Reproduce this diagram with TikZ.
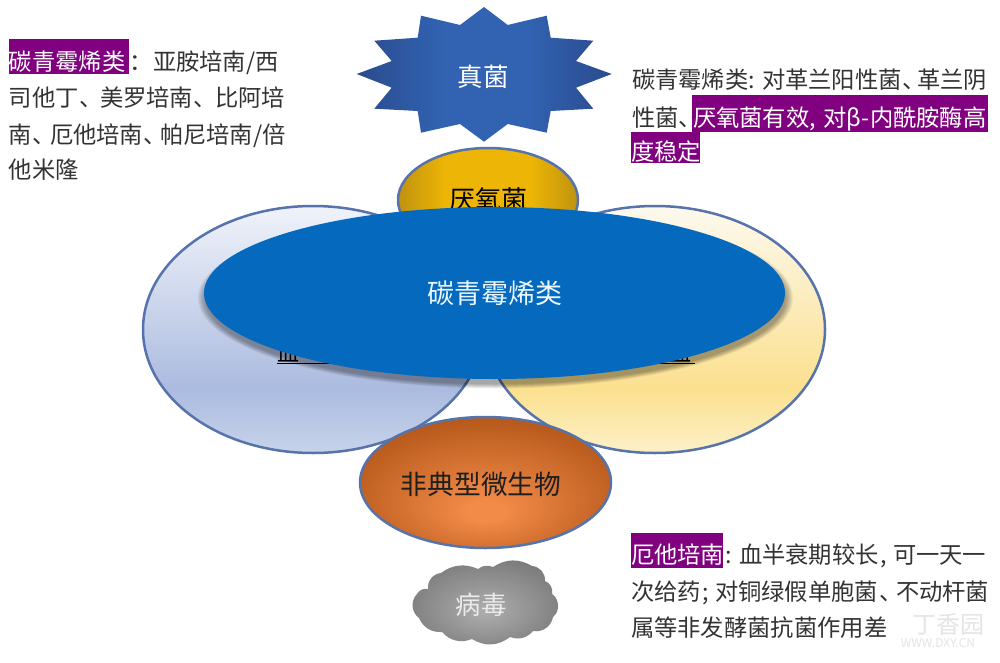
\documentclass[tikz,border=0pt]{standalone}
\usepackage{fontspec}
\setmainfont{Noto Sans CJK SC}
\usetikzlibrary{shapes.geometric}
\definecolor{edgeblue}{HTML}{5673AC}
\definecolor{plum}{HTML}{800080}
\definecolor{ink}{HTML}{333333}
\definecolor{sblA}{HTML}{C7D3EA}\definecolor{sblB}{HTML}{ABBBDF}\definecolor{sblC}{HTML}{F0F3FA}
\definecolor{syeA}{HTML}{FCF0C8}\definecolor{syeB}{HTML}{FBE08F}\definecolor{syeC}{HTML}{FDF9EE}
\definecolor{sorA}{HTML}{F28A48}\definecolor{sorB}{HTML}{B5581A}
\definecolor{sgrA}{HTML}{AEAEAE}\definecolor{sgrB}{HTML}{787878}
\definecolor{sgoA}{HTML}{EDB506}\definecolor{sgoB}{HTML}{BF920E}
\definecolor{sstA}{HTML}{3163B2}\definecolor{sstB}{HTML}{2B4B8D}
\definecolor{coreblue}{HTML}{0569BE}
\pgfdeclareverticalshading{bluelens}{100bp}{color(0bp)=(sblA); color(25bp)=(sblA); color(38bp)=(sblB); color(75bp)=(sblC); color(100bp)=(sblC)}
\pgfdeclareverticalshading{yellowlens}{100bp}{color(0bp)=(syeA); color(25bp)=(syeA); color(38bp)=(syeB); color(75bp)=(syeC); color(100bp)=(syeC)}
\pgfdeclarehorizontalshading{goldlens}{100bp}{color(0bp)=(sgoB); color(25bp)=(sgoB); color(38bp)=(sgoA); color(62bp)=(sgoA); color(75bp)=(sgoB); color(100bp)=(sgoB)}
\pgfdeclarehorizontalshading{starshade}{100bp}{color(0bp)=(sstB); color(25bp)=(sstB); color(42bp)=(sstA); color(58bp)=(sstA); color(75bp)=(sstB); color(100bp)=(sstB)}
\pgfdeclareradialshading{orangeglow}{\pgfpoint{0bp}{-12bp}}{color(0bp)=(sorA); color(4bp)=(sorA); color(30bp)=(sorB); color(50bp)=(sorB)}
\pgfdeclareradialshading{greyglow}{\pgfpoint{0bp}{-5bp}}{color(0bp)=(sgrA); color(30bp)=(sgrB); color(50bp)=(sgrB)}
\tikzset{
  lens/.style={ellipse,draw=edgeblue,line width=2.5pt,inner sep=0pt},
  shapelabel/.style={inner sep=0pt},
  notetext/.style={anchor=base west,inner sep=0pt,outer sep=0pt,text=ink,font=\fontsize{23.3}{24}\selectfont},
  marktext/.style={notetext,text=white},
  markbox/.style={fill=plum,draw=none},
  hiddenrule/.style={line width=1.1pt,black},
  softshadow/.style={fill=black,opacity=.04,draw=none},
  faintmark/.style={inner sep=0pt,text=black!10},
}
\newcommand{\lbl}[1]{\fontsize{#1}{#1}\selectfont}
\begin{document}
\begin{tikzpicture}[x=1pt,y=-1pt]
\useasboundingbox (0,0) rectangle (1000,663);
\fill[white] (0,0) rectangle (1000,663);
% star
\shade[shading=starshade]
 (484,7)--(507.7,25)--(546.7,15.7)--(550.7,37.7)--(593.3,40.7)--(576,61)--(611.7,74)--(576,87.7)--(593.3,108.7)--(550.7,111)--(546.7,132.7)--(507.7,124)--(484,141.7)--(460,124)--(421,132.7)--(417.7,111)--(374.3,108.7)--(391.7,87.7)--(356.7,74)--(391.7,61)--(374.3,40.7)--(417.7,37.7)--(421,15.7)--(460,25)--cycle;
\node[shapelabel,text=white,font=\lbl{25.5}] (fungi) at (483,77) {真菌};
% cloud
\shade[shading=greyglow]
 (417,594) to[bend left=35] (428,589) to[bend left=45] (441,573) to[bend left=30] (478,569) to[bend left=30] (493,567) to[bend left=32] (532,566) to[bend left=45] (545,581) to[bend left=40] (552,594) to[bend left=55] (553,617) to[bend left=45] (533,631) to[bend left=35] (510,637) to[bend left=35] (472,639) to[bend left=35] (442,632) to[bend left=35] (419,618) to[bend left=50] cycle;
\node[shapelabel,text=white!92!black,font=\lbl{25.5}] (virus) at (481,605) {病毒};
% gram lenses
\node[lens,shading=bluelens,minimum width=340pt,minimum height=247pt] (gpos) at (313,329.5) {};
\node[lens,shading=yellowlens,minimum width=340pt,minimum height=247pt] (gneg) at (655,329.5) {};
\node[shapelabel,font=\lbl{22},text=black,anchor=base west] (gposlabel) at (277,361) {血};
\node[shapelabel,font=\lbl{22},text=black,anchor=base east] (gneglabel) at (692,361) {血};
\coordinate (gposend) at (345,363.5);
\coordinate (gnegstart) at (640,363.5);
\draw[hiddenrule] (gposlabel.base west |- gposend) -- (gposend);
\draw[hiddenrule] (gnegstart) -- (gneglabel.base east |- gnegstart) -- ++(3,0);
% anaerobes
\node[lens,shading=goldlens,minimum width=180pt,minimum height=104pt] (anaerobe) at (488,200) {};
\node[shapelabel,font=\lbl{26},text=black] (anaerobelabel) at (488,200) {厌氧菌};
% atypical
\node[lens,shading=orangeglow,minimum width=251pt,minimum height=131pt] (atypical) at (485.5,482.5) {};
\node[shapelabel,font=\lbl{26.7},text=black!88] (atypicallabel) at (481,484) {非典型微生物};
% carbapenem core with a soft shadow
\foreach \g in {9,8,7,6,5,4,3,2,1,0}{
  \fill[softshadow] (495.5,298) ellipse ({290.5pt+\g*0.8pt} and {86pt+\g*0.5pt});
}
\node[ellipse,fill=coreblue,inner sep=0pt,minimum width=581pt,minimum height=172pt] (core) at (494.5,293) {};
\node[shapelabel,font=\lbl{27},text=white!92!cyan] (corelabel) at (494.5,293) {碳青霉烯类};
% upper-left note
\node[markbox,minimum width=120pt,minimum height=35pt,inner sep=0pt,anchor=north west] (nlbox) at (9,39) {};
\node[marktext] (nl1a) at (9,70.5) {碳青霉烯类};
\node[notetext] (nl1b) at (129,70.5) {：};
\node[notetext] (nl1c) at (153,70.5) {亚胺培南/西};
\node[notetext] (nl2a) at (9,106.5) {司他丁};
\node[notetext] (nl2b) at (79,106.5) {、};
\node[notetext] (nl2c) at (100,106.5) {美罗培南};
\node[notetext] (nl2d) at (193,106.5) {、};
\node[notetext] (nl2e) at (215,106.5) {比阿培};
\node[notetext] (nl3a) at (9,143.5) {南};
\node[notetext] (nl3b) at (32,143.5) {、};
\node[notetext] (nl3c) at (50,143.5) {厄他培南};
\node[notetext] (nl3d) at (143,143.5) {、};
\node[notetext] (nl3e) at (160,143.5) {帕尼培南/倍};
\node[notetext] (nl4) at (9,178.5) {他米隆};
% upper-right note
\node[notetext] (nr1a) at (632,88.5) {碳青霉烯类: };
\node[notetext] (nr1b) at (762,88.5) {对革兰阳性菌};
\node[notetext] (nr1c) at (902,88.5) {、};
\node[notetext] (nr1d) at (917,88.5) {革兰阴};
\node[markbox,minimum width=296pt,minimum height=37pt,inner sep=0pt,anchor=north west] (nrbox2) at (692,95) {};
\node[markbox,minimum width=69pt,minimum height=31pt,inner sep=0pt,anchor=north west] (nrbox3) at (631,132) {};
\node[notetext] (nr2a) at (632,126.5) {性菌};
\node[notetext] (nr2b) at (678,126.5) {、};
\node[marktext] (nr2c) at (693,126.5) {厌氧菌有效};
\node[marktext] (nr2d) at (809,126.5) {,};
\node[marktext] (nr2e) at (823,126.5) {对β-};
\node[marktext] (nr2f) at (870,126.5) {内酰胺酶高};
\node[marktext] (nr3) at (631,160.5) {度稳定};
% lower-right note
\node[markbox,minimum width=92pt,minimum height=35.5pt,inner sep=0pt,anchor=north west] (nbbox) at (631,532.7) {};
\node[marktext] (nb1a) at (631,563.5) {厄他培南};
\node[notetext] (nb1b) at (725,563.5) {:};
\node[notetext] (nb1c) at (739,563.5) {血半衰期较长};
\node[notetext] (nb1d) at (880,563.5) {,};
\node[notetext] (nb1e) at (893,563.5) {可一天一};
\node[notetext] (nb2a) at (631,600) {次给药};
\node[notetext] (nb2b) at (702,600) {;};
\node[notetext] (nb2c) at (715,600) {对铜绿假单胞菌};
\node[notetext] (nb2d) at (879,600) {、};
\node[notetext] (nb2e) at (896,600) {不动杆菌};
\node[notetext] (nb3) at (631,636.5) {属等非发酵菌抗菌作用差};
% watermark
\node[faintmark,font=\lbl{24}] (wm1) at (948,624) {丁香园};
\node[faintmark,font=\lbl{12}] (wm2) at (938,643) {WWW.DXY.CN};
\end{tikzpicture}
\end{document}
